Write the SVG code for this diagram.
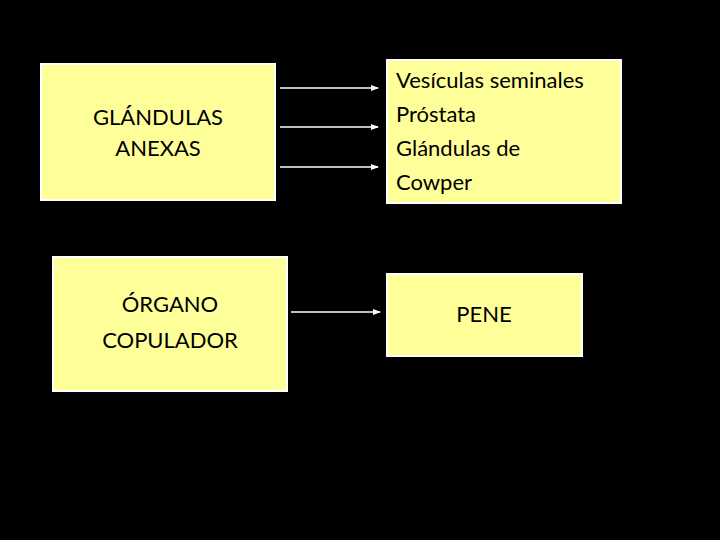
<svg xmlns="http://www.w3.org/2000/svg" width="720" height="540" viewBox="0 0 720 540">
<style>
.box{fill:#FFFF99;stroke:#fff;stroke-width:2}
text{font-family:Lato,"Open Sans",sans-serif;font-size:22px;fill:#000}
.c{text-anchor:middle}
.ln{stroke:#fff;stroke-width:1.5;fill:none;marker-end:url(#ah)}
</style>
<defs><marker id="ah" markerWidth="8" markerHeight="6" refX="7" refY="3" orient="auto" markerUnits="userSpaceOnUse"><path d="M0,0 L8,3 L0,6 z" fill="#fff"/></marker></defs>
<rect width="720" height="540" fill="#000"/>
<g id="n1"><rect class="box" x="41" y="64" width="234" height="136"/><text class="c" x="158" y="125">GLÁNDULAS</text><text class="c" x="158" y="156">ANEXAS</text></g>
<g id="n2"><rect class="box" x="387" y="60" width="234" height="143"/><text x="396" y="88">Vesículas seminales</text><text x="396" y="122">Próstata</text><text x="396" y="156">Glándulas de</text><text x="396" y="190">Cowper</text></g>
<g id="n3"><rect class="box" x="53" y="257" width="234" height="134"/><text class="c" x="170" y="312">ÓRGANO</text><text class="c" x="170" y="348">COPULADOR</text></g>
<g id="n4"><rect class="box" x="387" y="274" width="195" height="82"/><text class="c" x="484" y="322">PENE</text></g>
<g id="connectors">
<line class="ln" x1="280" y1="88" x2="378" y2="88"/>
<line class="ln" x1="280" y1="127" x2="378" y2="127"/>
<line class="ln" x1="280" y1="167" x2="378" y2="167"/>
<line class="ln" x1="291" y1="312" x2="380" y2="312"/>
</g>
</svg>
